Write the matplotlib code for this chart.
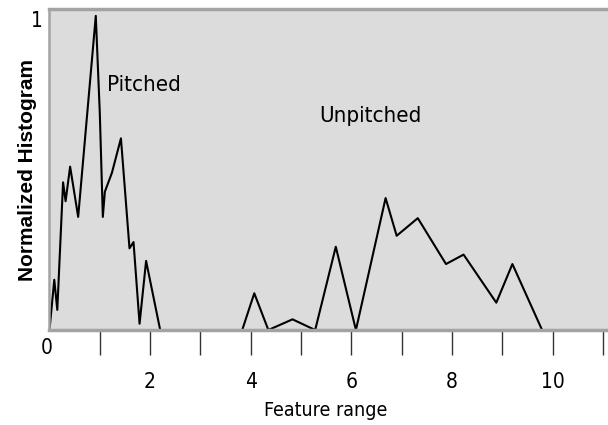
import matplotlib

matplotlib.use("Agg")
import matplotlib.pyplot as plt  # noqa: E402

# Pitched histogram (feature value, normalized count)
pitched_x = [0.0, 0.095, 0.155, 0.27, 0.32, 0.41, 0.57, 0.92, 1.0, 1.06, 1.10,
             1.24, 1.42, 1.59, 1.67, 1.79, 1.92, 2.2]
pitched_y = [0.0, 0.16, 0.064, 0.47, 0.41, 0.52, 0.36, 1.0, 0.69, 0.36, 0.44,
             0.50, 0.61, 0.26, 0.28, 0.02, 0.22, 0.0]

# Unpitched histogram
unpitched_x = [3.83, 4.07, 4.35, 4.83, 5.28, 5.69, 6.09, 6.68, 6.90, 7.32,
               7.88, 8.23, 8.88, 9.20, 9.79]
unpitched_y = [0.0, 0.117, 0.0, 0.034, 0.0, 0.265, 0.0, 0.42, 0.30, 0.356,
               0.21, 0.24, 0.087, 0.21, 0.0]

minor_ticks = list(range(1, 12))
labelled_ticks = [2, 4, 6, 8, 10]

BG = "#dcdcdc"
FRAME = "#a3a3a3"
NARROW = dict(family="DejaVu Sans", stretch="condensed")

fig = plt.figure(figsize=(6.08, 4.25), dpi=100)
ax = fig.add_axes([0.0814, 0.2235, 0.9186, 0.7555])
ax.set_facecolor(BG)
ax.plot(pitched_x, pitched_y, color="black", linewidth=1.5)
ax.plot(unpitched_x, unpitched_y, color="black", linewidth=1.5)
ax.set_xlim(0, 11.1)
ax.set_ylim(0, 1.022)

for side in ["top", "bottom"]:
    ax.spines[side].set_color(FRAME)
    ax.spines[side].set_linewidth(2.5)
ax.spines["left"].set_color(FRAME)
ax.spines["left"].set_linewidth(1.8)
ax.spines["right"].set_visible(False)

ax.set_yticks([])
ax.set_xticks(minor_ticks, labels=[str(t) if t in labelled_ticks else "" for t in minor_ticks])
ax.tick_params(axis="x", length=18, width=1.0, color="#333333", pad=12, labelsize=15)
for lab in ax.get_xticklabels():
    lab.set_family("DejaVu Sans")
    lab.set_stretch("condensed")

ax.text(-0.05, -0.025, "0", ha="center", va="top", fontsize=15, **NARROW)
ax.text(-0.14, 0.985, "1", ha="right", va="center", fontsize=15, **NARROW)

ax.text(1.88, 0.78, "Pitched", ha="center", va="center", fontsize=16, **NARROW)
ax.text(6.37, 0.68, "Unpitched", ha="center", va="center", fontsize=16, **NARROW)

fig.text(0.535, 0.035, "Feature range", ha="center", va="center", fontsize=14, **NARROW)
fig.text(0.046, 0.6, "Normalized Histogram", ha="center", va="center", rotation=90,
         fontsize=15, fontweight="bold", family=["Liberation Sans", "DejaVu Sans"])

fig.savefig("out.png", dpi=100)
